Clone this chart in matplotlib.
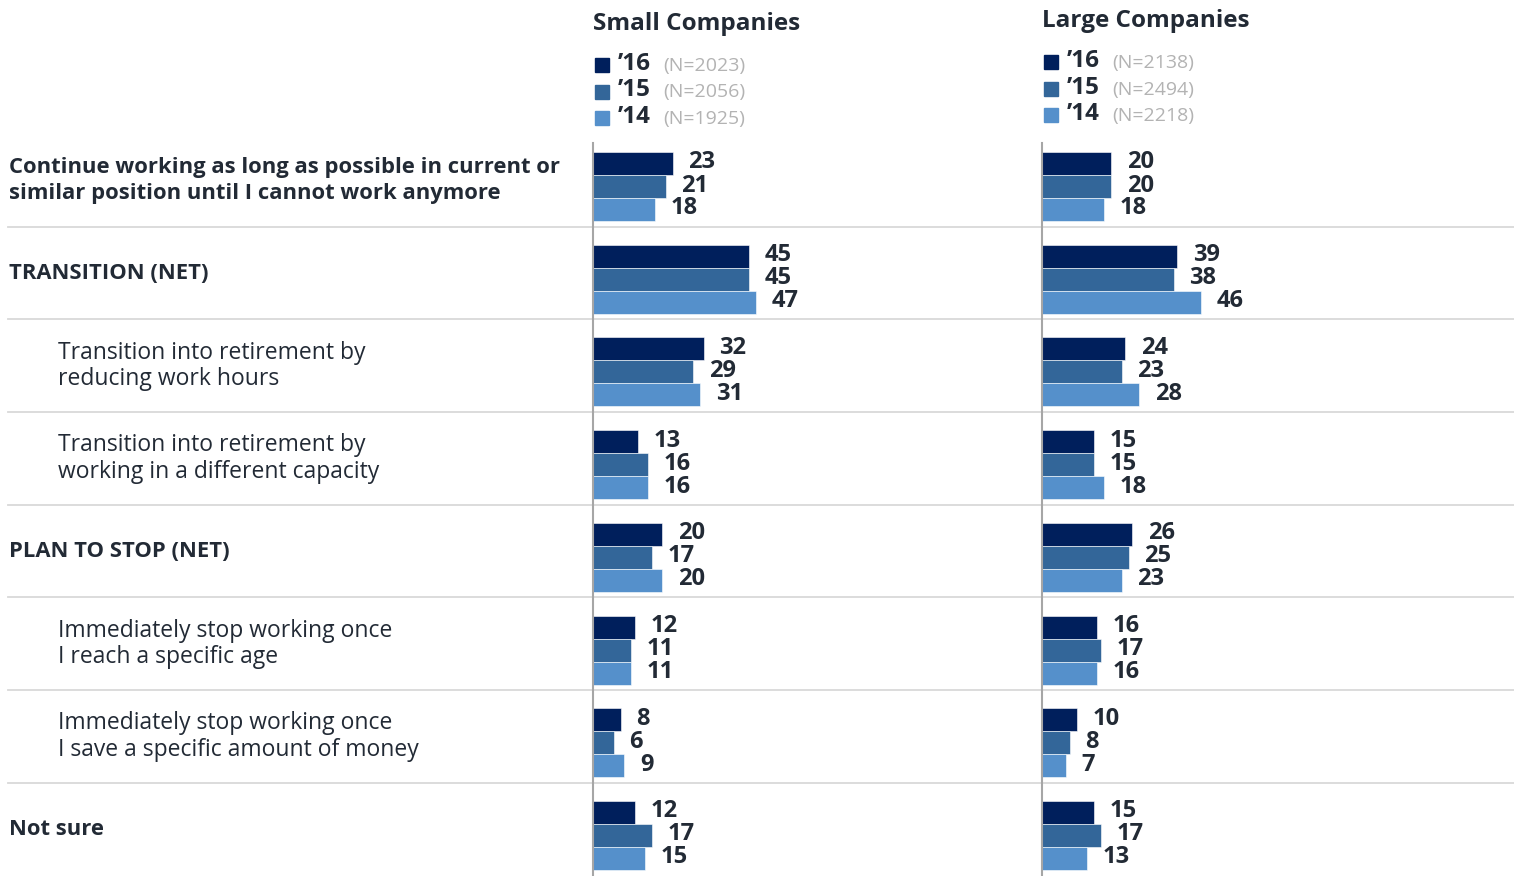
import matplotlib
matplotlib.use("Agg")
import matplotlib.pyplot as plt

plt.rcParams['font.family'] = ['Open Sans', 'DejaVu Sans']

categories = [
    "Continue working as long as possible in current or\nsimilar position until I cannot work anymore",
    "TRANSITION (NET)",
    "Transition into retirement by\nreducing work hours",
    "Transition into retirement by\nworking in a different capacity",
    "PLAN TO STOP (NET)",
    "Immediately stop working once\nI reach a specific age",
    "Immediately stop working once\nI save a specific amount of money",
    "Not sure",
]
is_header = [True, True, False, False, True, False, False, True]

years = ["\u201916", "\u201915", "\u201914"]
small_n = ["(N=2023)", "(N=2056)", "(N=1925)"]
large_n = ["(N=2138)", "(N=2494)", "(N=2218)"]

small_16 = [23, 45, 32, 13, 20, 12, 8, 12]
small_15 = [21, 45, 29, 16, 17, 11, 6, 17]
small_14 = [18, 47, 31, 16, 20, 11, 9, 15]
large_16 = [20, 39, 24, 15, 26, 16, 10, 15]
large_15 = [20, 38, 23, 15, 25, 17, 8, 17]
large_14 = [18, 46, 28, 18, 23, 16, 7, 13]

colors = ["#001f5c", "#336699", "#5590cb"]
text_col = "#222a35"
grey_txt = "#b3b3b3"
sep_col = "#d9d9d9"

W, H = 1514, 876
fig = plt.figure(figsize=(W / 100, H / 100), dpi=100)

# background axes in pixel coordinates for labels and separators
bg = fig.add_axes([0, 0, 1, 1])
bg.set_xlim(0, W)
bg.set_ylim(H, 0)
bg.axis("off")

row0, step, bh = 186.5, 92.7, 23
centers = [row0 + i * step for i in range(len(categories))]

for i, (cat, hdr) in enumerate(zip(categories, is_header)):
    x = 9 if hdr else 58
    bg.text(x, centers[i] - 6, cat, ha="left", va="center",
            fontsize=15.8 if hdr else 16.5,
            fontweight="bold" if hdr else "normal", color=text_col,
            linespacing=1.3 if hdr else 1.15)
    if i < len(categories) - 1:
        bg.plot([8, W], [centers[i] + 40, centers[i] + 40], color=sep_col, lw=1.3)

px_per_unit = 3.465


def panel(x0, title, ns, series, title_y, leg_y):
    ax = fig.add_axes([x0 / W, 0, 260 / W, 1])
    ax.set_xlim(0, 260 / px_per_unit)
    ax.set_ylim(H, 0)
    ax.axis("off")
    ax.patch.set_alpha(0)
    for k, vals in enumerate(series):
        ys = [c + (k - 1) * bh for c in centers]
        ax.barh(ys, vals, height=bh, color=colors[k], edgecolor="#ffffff", linewidth=0.4)
        for y, v in zip(ys, vals):
            ax.text(v + 4.5, y - 1, str(v), ha="left", va="center", fontsize=17,
                    fontweight="bold", color=text_col)
    ax.plot([0, 0], [143, H], color="#a6a6a6", lw=1.5, clip_on=False)
    bg.text(x0, title_y, title, ha="left", va="center", fontsize=17.5,
            fontweight="bold", color=text_col)
    for k in range(3):
        y = leg_y + k * 26.5
        bg.add_patch(plt.Rectangle((x0 + 2, y - 7), 14, 14, color=colors[k]))
        bg.text(x0 + 25, y - 1, years[k], ha="left", va="center", fontsize=17.5,
                fontweight="bold", color=text_col)
        bg.text(x0 + 70, y + 1, ns[k], ha="left", va="center", fontsize=14,
                color=grey_txt)
    return ax


panel(593, "Small Companies", small_n, [small_16, small_15, small_14], 24, 65)
panel(1042, "Large Companies", large_n, [large_16, large_15, large_14], 21, 62)

fig.savefig("out.png", dpi=100)
